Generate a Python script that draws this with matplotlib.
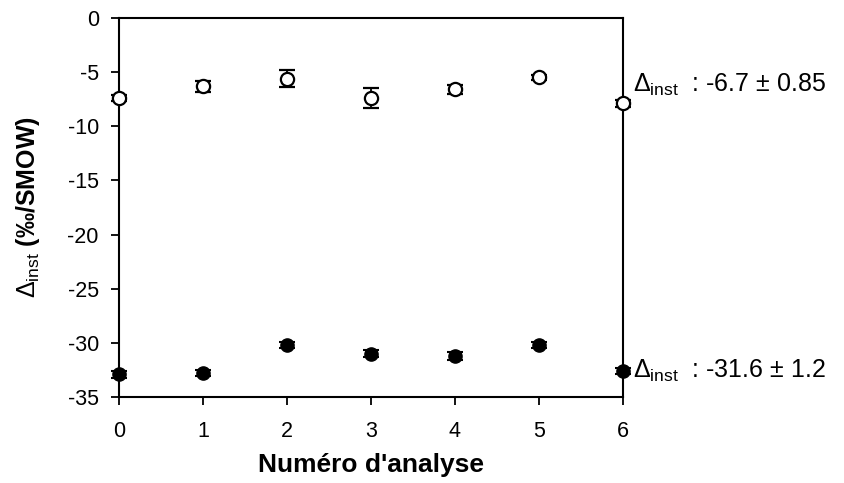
import matplotlib
matplotlib.use("Agg")
import matplotlib.pyplot as plt

plt.rcParams['font.family'] = ['Liberation Sans', 'DejaVu Sans']
plt.rcParams['mathtext.fontset'] = 'custom'
plt.rcParams['mathtext.rm'] = 'Liberation Sans'
plt.rcParams['mathtext.it'] = 'Liberation Sans:italic'
plt.rcParams['mathtext.bf'] = 'Liberation Sans:bold'
plt.rcParams['axes.unicode_minus'] = False

# data
analyse = [0, 1, 2, 3, 4, 5, 6]
open_vals = [-7.4, -6.3, -5.6, -7.4, -6.6, -5.5, -7.9]
open_err = [0.3, 0.5, 0.8, 0.9, 0.4, 0.25, 0.3]
filled_vals = [-32.9, -32.8, -30.2, -31.0, -31.2, -30.2, -32.6]
filled_err = [0.3, 0.3, 0.3, 0.3, 0.4, 0.3, 0.3]

label_open = r'$\Delta_{\mathrm{inst}}$  : -6.7 ± 0.85'
label_filled = r'$\Delta_{\mathrm{inst}}$  : -31.6 ± 1.2'

fig = plt.figure(figsize=(8.44, 4.83), dpi=100)
ax = fig.add_axes([0.141, 0.178, 0.597, 0.785])

ax.errorbar(analyse, open_vals, yerr=open_err, fmt='o', mfc='white', mec='black',
            mew=1.6, ms=9.5, ecolor='black', elinewidth=1.3, capsize=5.5,
            capthick=1.5, clip_on=False, zorder=3)
ax.errorbar(analyse, filled_vals, yerr=filled_err, fmt='o', mfc='black', mec='black',
            ms=9.5, ecolor='black', elinewidth=1.3, capsize=5.5,
            capthick=1.5, clip_on=False, zorder=3)

ax.set_xlim(0, 6)
ax.set_ylim(-35, 0)
ax.set_xticks(range(0, 7))
ax.set_yticks(range(-35, 1, 5))
ax.tick_params(direction='out', length=6, width=1.3, labelsize=15.5,
               right=False, top=False)
ax.tick_params(axis='x', pad=11)
ax.tick_params(axis='y', pad=8.5)
for s in ax.spines.values():
    s.set_linewidth(1.5)

ax.set_xlabel("Numéro d'analyse", fontsize=19, fontweight='bold', labelpad=8)
ax.set_ylabel(r'$\Delta_{\mathrm{inst}}$ (‰/SMOW)', fontsize=18,
              fontweight='bold', labelpad=18)

ax.text(1.02, -6.85, label_open, transform=ax.get_yaxis_transform(),
        fontsize=18, va='baseline', ha='left')
ax.text(1.02, -33.2, label_filled, transform=ax.get_yaxis_transform(),
        fontsize=18, va='baseline', ha='left')

fig.savefig('out.png', dpi=100)
